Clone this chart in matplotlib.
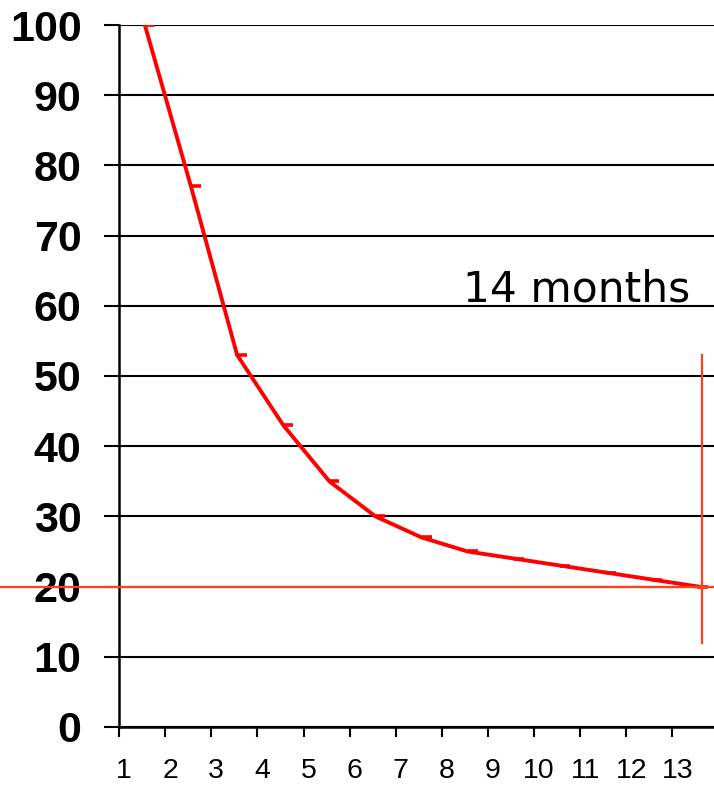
import matplotlib.pyplot as plt
from matplotlib.path import Path
import matplotlib.transforms as mtransforms
import numpy as np

# category labels and values
months = ['1', '2', '3', '4', '5', '6', '7', '8', '9', '10', '11', '12', '13']
values = [100, 77, 53, 43, 35, 30, 27, 25, 24, 23, 22, 21, 20]
target = 20
label = '14 months'
yticks = [0, 10, 20, 30, 40, 50, 60, 70, 80, 90, 100]

fig = plt.figure(figsize=(7.14, 7.89), dpi=100)
ax = fig.add_axes([0.1667, 0.0786, 0.8333, 0.8897])

x = np.arange(len(months)) + 0.56

# small right-pointing tick at each point, like the Excel marker
tick_marker = Path([(0, 0), (1, 0)])
ax.plot(x, values, color='#FF0000', lw=2.8, zorder=3,
        marker=tick_marker, markersize=15, markeredgewidth=2.6,
        markeredgecolor='#FF0000', solid_joinstyle='miter')

# target line across the whole figure and the vertical marker
ax.axhline(target, xmin=-0.2, xmax=1.0, color='#FF4020', lw=1.6,
           clip_on=False, zorder=4)
ax.plot([x[-1] + 0.08, x[-1] + 0.08], [53, 12], color='#FF4020', lw=1.6,
        zorder=4, clip_on=False)

ax.text(12.39, 62.3, label, ha='right', va='center', fontsize=30.5,
        family='DejaVu Sans')

ax.set_ylim(0, 100)
ax.set_xlim(0, 12.9)
ax.set_yticks(yticks)
ax.set_yticklabels([str(v) for v in yticks], fontsize=31, fontweight='bold',
                   family='Liberation Sans')
ax.yaxis.grid(True, color='black', lw=1.5, zorder=1)
ax.set_axisbelow(True)

ax.set_xticks(np.arange(len(months)))
ax.set_xticklabels(months, fontsize=20.5, family='Liberation Sans')

ax.tick_params(axis='y', length=11, width=1.5, pad=16)
ax.tick_params(axis='x', length=7, width=1.5, pad=15)

for s in ['top', 'right']:
    ax.spines[s].set_visible(False)
ax.spines['left'].set_linewidth(1.8)
ax.spines['bottom'].set_linewidth(1.8)

# nudge x labels slightly right, as in the original
offset = mtransforms.ScaledTranslation(5 / 100, 0, fig.dpi_scale_trans)
for t in ax.get_xticklabels():
    t.set_transform(t.get_transform() + offset)

fig.savefig('out.png', dpi=100)
